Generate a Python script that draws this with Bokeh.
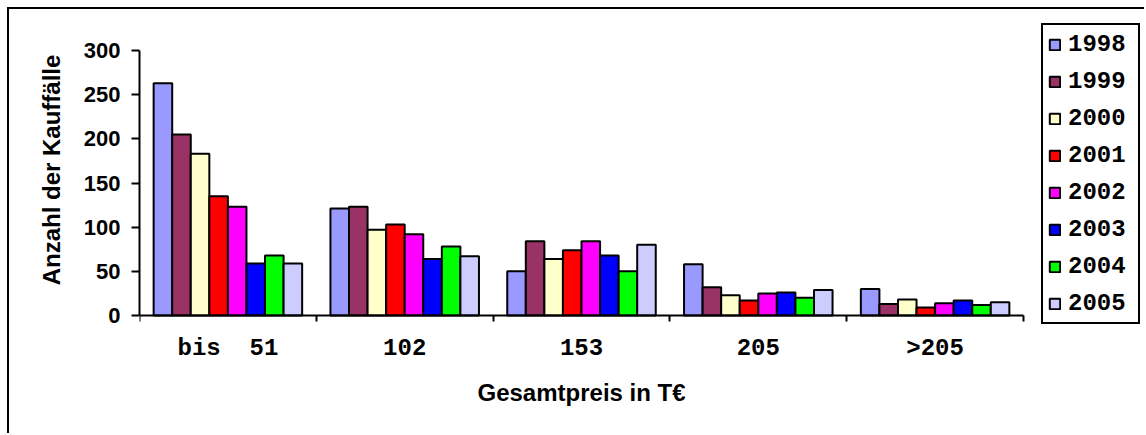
from bokeh.plotting import figure
from bokeh.models import Range1d, FixedTicker, Legend, LegendItem, ColumnDataSource, LinearAxis, Title
from bokeh.embed import file_html
from bokeh.resources import INLINE

# ---- data ----
categories = ["bis\u00a0\u00a051", "102", "153", "205", ">205"]
years = ["1998", "1999", "2000", "2001", "2002", "2003", "2004", "2005"]
colors = ["#9999FF", "#993366", "#FFFFCC", "#FF0000", "#FF00FF", "#0000FF", "#00FF00", "#CCCCFF"]
v1998 = [263, 121, 50, 58, 30]
v1999 = [205, 123, 84, 32, 13]
v2000 = [183, 97, 64, 23, 18]
v2001 = [135, 103, 74, 17, 9]
v2002 = [123, 92, 84, 25, 14]
v2003 = [59, 64, 68, 26, 17]
v2004 = [68, 78, 50, 20, 12]
v2005 = [59, 67, 80, 29, 15]
y_ticks = [0, 50, 100, 150, 200, 250, 300]
series = [v1998, v1999, v2000, v2001, v2002, v2003, v2004, v2005]
x_title = "Gesamtpreis in T€"
y_title = "Anzahl der Kauffälle"

n_cat = len(categories)
n_ser = len(years)
bar_w = 0.105
y_max = 300

# ---- layout (pixels) ----
W, H = 1137, 426          # canvas size (placed at page 9,9 by css)
left_b, top_b, bot_b = 130, 3, 108
frame_w = W - left_b
frame_h = H - top_b - bot_b
cat_px = 884              # pixel width of the category axis
plot_px = 265             # pixel height of 0..300
axis_from_bottom = 12     # x axis line sits this many px above the frame bottom
x_title_left = 338        # px from frame left to the x title start
x_end = n_cat * frame_w / cat_px
upp = y_max / plot_px
y_start = -axis_from_bottom * upp
y_end = y_start + frame_h * upp

p = figure(width=W, height=H, output_backend="svg", toolbar_location=None,
           x_range=Range1d(0, x_end), y_range=Range1d(y_start, y_end),
           min_border_left=left_b, min_border_right=0, min_border_top=top_b, min_border_bottom=bot_b)
p.styles = {"margin-left": "7px", "margin-top": "7px",
            "border-left": "2px solid black", "border-top": "2px solid black"}
p.background_fill_color = "white"
p.border_fill_color = "white"
p.outline_line_color = None
p.xgrid.visible = False
p.ygrid.visible = False

items = []
for j, (yr, col, vals) in enumerate(zip(years, colors, series)):
    xs = [i + 0.5 + (j - (n_ser - 1) / 2) * bar_w for i in range(n_cat)]
    src = ColumnDataSource(dict(x=xs, top=vals))
    r = p.vbar(x="x", top="top", width=bar_w, bottom=0, source=src,
               fill_color=col, line_color="black", line_width=2)
    items.append(LegendItem(label=yr, renderers=[r]))

centers = [i + 0.5 for i in range(n_cat)]

# x axis: category labels (at frame bottom, no line / ticks)
xa = p.xaxis[0]
xa.ticker = FixedTicker(ticks=centers, minor_ticks=[])
xa.major_label_overrides = {c: lab for c, lab in zip(centers, categories)}
xa.bounds = (0, n_cat)
xa.axis_line_color = None
xa.major_tick_line_color = None
xa.minor_tick_line_color = None
xa.major_tick_out = 0
xa.major_tick_in = 0
xa.minor_tick_out = 0
xa.minor_tick_in = 0
xa.major_label_text_font = "Liberation Mono"
xa.major_label_text_font_style = "bold"
xa.major_label_text_font_size = "24px"
xa.major_label_text_color = "black"
xa.major_label_standoff = 7

# x axis: line + boundary ticks at y = 0
xline = LinearAxis(ticker=FixedTicker(ticks=[], minor_ticks=list(range(n_cat + 1))),
                   bounds=(0, n_cat), fixed_location=0,
                   axis_line_width=2, axis_line_color="black",
                   minor_tick_line_color="black", minor_tick_line_width=2,
                   minor_tick_out=6, minor_tick_in=0,
                   major_tick_line_color=None, major_label_text_font_size="0px")
p.add_layout(xline, "below")

# x axis title, under the middle of the category axis
xt = Title(text=x_title, align="left", offset=x_title_left,
           text_font="Liberation Sans", text_font_style="bold", text_font_size="24px",
           text_color="black", standoff=24)
p.add_layout(xt, "below")

# y axis
ya = p.yaxis[0]
ya.ticker = FixedTicker(ticks=y_ticks, minor_ticks=[])
ya.bounds = (0, y_max)
ya.major_tick_line_width = 2
ya.major_tick_out = 8
ya.major_tick_in = 0
ya.axis_line_width = 2
ya.major_label_text_font = "Liberation Sans"
ya.major_label_text_font_style = "bold"
ya.major_label_text_font_size = "22px"
ya.major_label_text_color = "black"
ya.major_label_standoff = 11
ya.axis_label = y_title
ya.axis_label_text_font = "Liberation Sans"
ya.axis_label_text_font_style = "bold"
ya.axis_label_text_font_size = "24px"
ya.axis_label_text_color = "black"
ya.axis_label_standoff = 16

legend = Legend(items=items, location=(902, 3), margin=0, padding=5, spacing=9,
                label_height=28, label_width=65, glyph_width=13, glyph_height=13, label_standoff=7,
                border_line_color="black", border_line_width=2, border_line_alpha=1,
                background_fill_color="white", background_fill_alpha=1,
                label_text_font="Liberation Mono", label_text_font_style="bold",
                label_text_font_size="24px", label_text_color="black")
p.add_layout(legend)

open("out.html", "w").write(file_html(p, INLINE))
